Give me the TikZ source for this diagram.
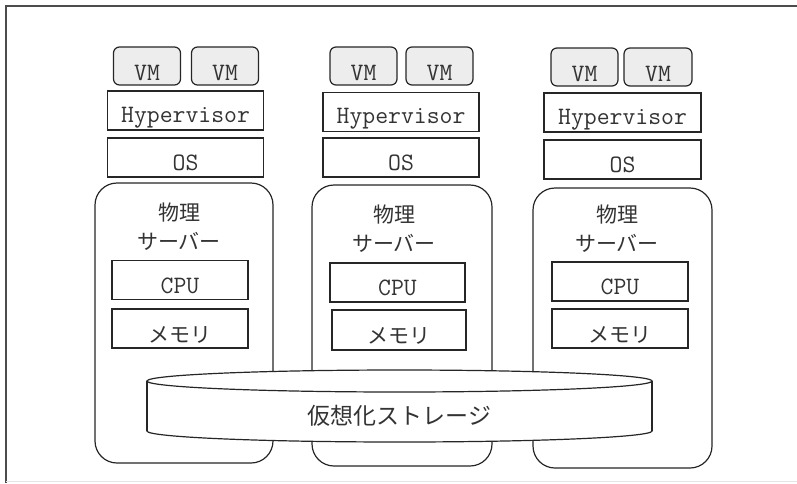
\documentclass[tikz,border=0pt]{standalone}
\usepackage{fontspec}
\newfontfamily\jp{Noto Sans CJK JP}
\begin{document}
\begin{tikzpicture}[x=1pt,y=-1pt,
  line width=1.2pt,
  lay/.style={draw=black!85,fill=white,rectangle,inner sep=0pt,text=black!80,
    font=\ttfamily\fontsize{25}{28}\selectfont,text height=26pt,text depth=0pt},
  vmbox/.style={lay,fill=black!7,rounded corners=6pt,minimum width=67pt,minimum height=38pt,text height=28pt},
  wide/.style={lay,minimum width=156pt,minimum height=39pt},
  part/.style={lay,minimum width=136pt,minimum height=39pt},
  jpt/.style={font=\jp\fontsize{21}{22}\selectfont,text height=27pt},
  server/.style={draw=black!85,fill=white,rounded corners=22pt,rectangle,inner sep=0pt},
  ttl/.style={text=black!80,align=center,font=\jp\fontsize{21}{29}\selectfont,inner sep=0pt}]
\useasboundingbox (0,0) rectangle (797,483);
% frame
\draw[black!70,line width=1.5pt] (6,483) -- (6,6) -- (797,6);
\draw[black!10,line width=1pt] (6,481.5) -- (797,481.5);

% server 1
\node[vmbox] (vm11) at (147,66) {VM};
\node[vmbox] (vm12) at (225,66) {VM};
\node[wide,text height=23pt] (hv1) at (185.5,110.5) {Hypervisor};
\node[wide,text height=25pt] (os1) at (185.5,157.5) {OS};
\node[server,minimum width=178pt,minimum height=280pt] (srv1) at (184,323) {};
\node[ttl] (t1) at (179,227) {物理\\サーバー};
\node[part] (cpu1) at (180,280) {CPU};
\node[part,jpt] (mem1) at (180,328.5) {メモリ};

% server 2
\node[vmbox] (vm21) at (363.5,66) {VM};
\node[vmbox] (vm22) at (439.5,66) {VM};
\node[wide,text height=23pt] (hv2) at (401,112) {Hypervisor};
\node[wide,text height=25pt] (os2) at (401,157.5) {OS};
\node[server,minimum width=180pt,minimum height=281pt] (srv2) at (402,325.5) {};
\node[ttl] (t2) at (394,228.5) {物理\\サーバー};
\node[part,minimum width=135pt] (cpu2) at (397.5,282.5) {CPU};
\node[part,jpt,minimum width=134pt,minimum height=40pt] (mem2) at (399,330) {メモリ};

% server 3
\node[vmbox] (vm31) at (584.5,67) {VM};
\node[vmbox,minimum width=68pt] (vm32) at (658,67) {VM};
\node[wide,minimum width=157pt,text height=23pt] (hv3) at (622.5,112.5) {Hypervisor};
\node[wide,minimum width=157pt,text height=25pt] (os3) at (622.5,159.5) {OS};
\node[server,minimum width=179pt,minimum height=280pt] (srv3) at (622.5,328) {};
\node[ttl] (t3) at (617,229) {物理\\サーバー};
\node[part] (cpu3) at (620,281.5) {CPU};
\node[part,jpt] (mem3) at (620,328.5) {メモリ};

% storage cylinder
\draw[black!85,fill=white] (399.5,431) ellipse [x radius=252.5, y radius=11];
\fill[white] (147,381) rectangle (652,431);
\draw[black!85] (147,381) -- (147,431) (652,381) -- (652,431);
\draw[black!85,fill=white] (399.5,381) ellipse [x radius=252.5, y radius=11];
\node[text=black!80,font=\jp\fontsize{23}{26}\selectfont,inner sep=0pt,anchor=base] (st) at (399.5,424) {仮想化ストレージ};
\end{tikzpicture}
\end{document}
